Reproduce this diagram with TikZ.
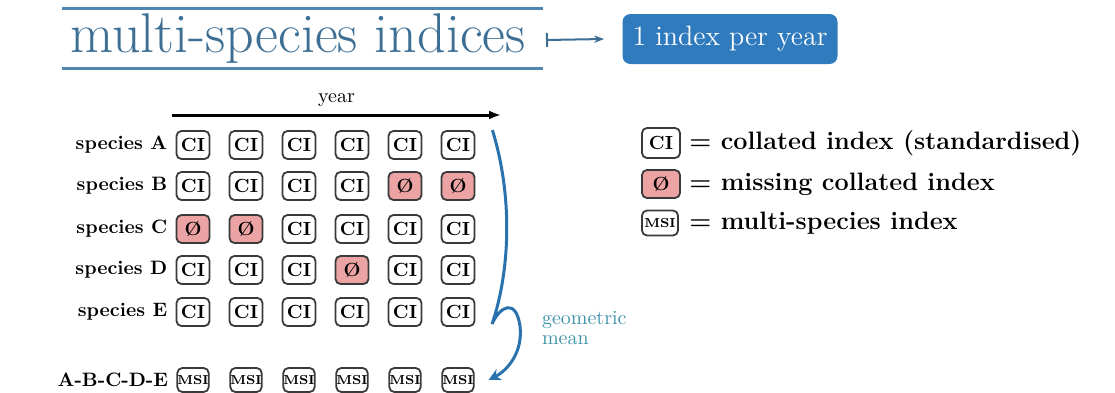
\documentclass[tikz,border=0pt]{standalone}
\usepackage{tikz}
\usetikzlibrary{arrows.meta,positioning,calc}
\definecolor{TitleBlue}{HTML}{3D6F95}
\definecolor{RuleBlue}{HTML}{4F86B0}
\definecolor{BoxBlue}{HTML}{2F7BBE}
\definecolor{MissRed}{HTML}{EBA3A3}
\definecolor{MeanTeal}{HTML}{3E93A8}
\definecolor{CurveBlue}{HTML}{2A72AD}
\definecolor{CellEdge}{HTML}{3A3A3A}

\begin{document}
\begin{tikzpicture}[
  x=0.5pt,y=-0.5pt,
  cell/.style={
    draw=CellEdge,line width=0.9pt,rounded corners=2.5pt,
    minimum width=16.5pt,minimum height=14pt,inner sep=0pt,
    font=\bfseries\fontsize{9.5}{10}\selectfont
  },
  ci/.style={cell,node contents=CI},
  miss/.style={cell,fill=MissRed,node contents=\O},
  msi/.style={cell,minimum width=15pt,minimum height=12pt,
    font=\bfseries\fontsize{6.5}{7}\selectfont},
  rowlabel/.style={font=\bfseries\fontsize{9.7}{10}\selectfont,inner sep=0pt},
  legendtext/.style={font=\bfseries\fontsize{12.6}{14}\selectfont,inner sep=0pt},
  title/.style={text=TitleBlue,font=\fontsize{28}{32}\selectfont,inner sep=0pt},
  rule/.style={draw=RuleBlue,line width=1.5pt}
]
  \useasboundingbox (0,0) rectangle (1115,392);

  % heading
  \node[title,anchor=base west] (title) at (70,52) {multi-species indices};
  \draw[rule] (62,8) -- (543,8);
  \draw[rule] (62,68) -- (543,68);
  \node[fill=BoxBlue,text=white,rounded corners=4pt,minimum width=107.5pt,
    minimum height=25pt,font=\fontsize{14}{16}\selectfont] (peryear) at (730,39)
    {1 index per year};
  \draw[TitleBlue,line width=1pt,{Bar[width=7pt]}-{Stealth[length=5pt]}]
    (546,40) -- ([xshift=-9pt]peryear.west);

  % year axis
  \coordinate (yearstart) at (172,115);
  \coordinate (yearend) at (501,115);
  \draw[line width=1.5pt,-{Latex[length=6pt]}] (yearstart) -- (yearend)
    node[midway,above=0pt,font=\fontsize{10}{12}\selectfont] {year};

  % species rows
  \foreach \name/\y/\states in {
    A/145/{ci,ci,ci,ci,ci,ci},
    B/186/{ci,ci,ci,ci,miss,miss},
    C/229/{miss,miss,ci,ci,ci,ci},
    D/270/{ci,ci,ci,miss,ci,ci},
    E/312/{ci,ci,ci,ci,ci,ci}}{
    \foreach \s [count=\k] in \states
      \node (\name\k) at ({140+53*\k},\y) [\s];
    \node[rowlabel,left=4pt of \name1] {species \name};
  }

  % multi-species row
  \foreach \k in {1,...,6}
    \node[msi] (msi\k) at ({140+53*\k},380) {MSI};
  \node[rowlabel,left=4pt of msi1] {A-B-C-D-E};

  % geometric mean
  \draw[CurveBlue,line width=1.5pt,-{Stealth[length=6pt,width=6pt]}]
    ([xshift=8.5pt]A6.north east) .. controls (514,200) and (509,275) .. (492,324)
    .. controls (500,306) and (516,298) .. (520,326)
    .. controls (523,352) and (508,370) .. ([xshift=7pt]msi6.east);
  \node[anchor=west,align=left,text=MeanTeal,
    font=\fontsize{10}{10}\selectfont] (mean) at (535,328) {geometric\\mean};

  % legend
  \node[cell,minimum width=19pt,minimum height=15pt] (legCI) at (661,143) {CI};
  \node[cell,fill=MissRed,minimum width=19pt,minimum height=14pt] (legMiss) at (661,184) {\O};
  \node[msi,minimum width=18pt,minimum height=12.5pt] (legMSI) at (660,223) {MSI};
  \node[legendtext,right=4pt of legCI] {= collated index (standardised)};
  \node[legendtext,right=4pt of legMiss] {= missing collated index};
  \node[legendtext,right=5pt of legMSI] {= multi-species index};
\end{tikzpicture}
\end{document}
